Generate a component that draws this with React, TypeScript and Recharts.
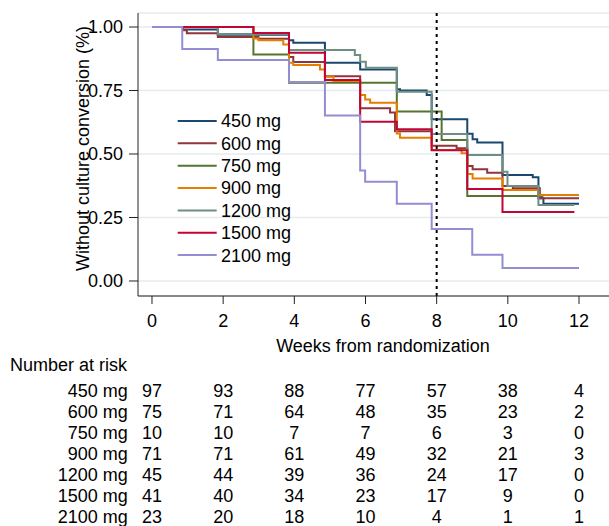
import React from 'react';
import { LineChart, Line, XAxis, YAxis, CartesianGrid, ReferenceLine } from 'recharts';

// ---- data ----
const groups = ['450 mg', '600 mg', '750 mg', '900 mg', '1200 mg', '1500 mg', '2100 mg'];
const colors = ['#1a476f', '#90353b', '#55752f', '#e37e00', '#6e8e84', '#c10534', '#938dd2'];

const t450 = [0, 0.87, 1.85, 3.85, 3.97, 4.86, 5.85, 6.88, 6.97, 7.72, 7.86, 8.86, 9.01, 9.14, 9.85, 10.7, 10.86, 11.0, 12];
const s450 = [1, 0.99, 0.969, 0.948, 0.938, 0.859, 0.833, 0.755, 0.75, 0.732, 0.637, 0.58, 0.558, 0.545, 0.417, 0.408, 0.326, 0.304, 0.304];

const t600 = [0, 0.87, 0.98, 1.85, 2.99, 3.85, 3.97, 4.86, 5.85, 6.69, 6.83, 7.86, 8.56, 8.86, 9.01, 9.42, 9.85, 10.14, 10.9, 12];
const s600 = [1, 0.987, 0.975, 0.961, 0.954, 0.882, 0.862, 0.806, 0.68, 0.663, 0.59, 0.532, 0.523, 0.453, 0.44, 0.426, 0.374, 0.365, 0.326, 0.326];

const t750 = [0, 2.85, 3.85, 6.88, 8.14, 8.86, 11.0];
const s750 = [1, 0.892, 0.781, 0.667, 0.555, 0.335, 0.335];

const t900 = [0, 2.85, 2.99, 3.69, 3.85, 3.97, 4.72, 4.86, 5.1, 5.85, 5.99, 6.13, 6.88, 6.97, 7.86, 8.7, 8.86, 9.01, 9.85, 10.86, 12];
const s900 = [1, 0.955, 0.948, 0.931, 0.859, 0.85, 0.833, 0.804, 0.787, 0.732, 0.715, 0.702, 0.581, 0.564, 0.516, 0.503, 0.421, 0.404, 0.358, 0.339, 0.339];

const t1200 = [0, 1.85, 3.85, 5.7, 5.85, 6.01, 6.88, 7.86, 8.86, 9.85, 9.99, 10.86, 11.87];
const s1200 = [1, 0.972, 0.909, 0.89, 0.863, 0.84, 0.745, 0.579, 0.496, 0.43, 0.374, 0.299, 0.299];

const t1500 = [0, 2.85, 3.85, 4.86, 5.85, 6.88, 7.86, 8.86, 9.85, 11.87];
const s1500 = [1, 0.976, 0.899, 0.791, 0.627, 0.597, 0.515, 0.362, 0.272, 0.272];

const t2100 = [0, 0.85, 1.85, 3.85, 4.86, 5.85, 5.99, 6.88, 7.86, 9.0, 9.85, 12];
const s2100 = [1, 0.913, 0.87, 0.783, 0.652, 0.435, 0.391, 0.304, 0.205, 0.103, 0.051, 0.051];

const xTicks = [0, 2, 4, 6, 8, 10, 12];
const yTicks = [0, 0.25, 0.5, 0.75, 1];

const riskTimes = [0, 2, 4, 6, 8, 10, 12];
const risk450 = [97, 93, 88, 77, 57, 38, 4];
const risk600 = [75, 71, 64, 48, 35, 23, 2];
const risk750 = [10, 10, 7, 7, 6, 3, 0];
const risk900 = [71, 71, 61, 49, 32, 21, 3];
const risk1200 = [45, 44, 39, 36, 24, 17, 0];
const risk1500 = [41, 40, 34, 23, 17, 9, 0];
const risk2100 = [23, 20, 18, 10, 4, 1, 1];

const refWeek = 8;

// ---- build ----
const zip = (t: number[], s: number[]) => t.map((v, i) => ({ t: v, s: s[i] }));
const series = [
  zip(t450, s450),
  zip(t600, s600),
  zip(t750, s750),
  zip(t900, s900),
  zip(t1200, s1200),
  zip(t1500, s1500),
  zip(t2100, s2100),
];
const riskRows = [risk450, risk600, risk750, risk900, risk1200, risk1500, risk2100];

// ---- layout ----
const W = 609;
const H = 526;
const PLOT_LEFT = 138;
const PLOT_TOP = 13;
const PLOT_BOTTOM = 296;
const X_AXIS_H = 40;
const X_DOMAIN: [number, number] = [-0.3934, 12.843];
const Y_DOMAIN: [number, number] = [-0.05906, 1.05512];
const FONT = '"Liberation Sans", Arial, sans-serif';
const FS = 18;

const xPix = (w: number) =>
  PLOT_LEFT + ((w - X_DOMAIN[0]) / (X_DOMAIN[1] - X_DOMAIN[0])) * (W - PLOT_LEFT);

export default function App() {
  return (
    <div
      style={{
        position: 'absolute',
        left: 0,
        top: 0,
        width: W,
        height: H,
        overflow: 'hidden',
        background: '#fff',
        fontFamily: FONT,
      }}
    >
      <LineChart
        width={W}
        height={H}
        margin={{ top: PLOT_TOP, right: 0, left: 0, bottom: H - PLOT_BOTTOM - X_AXIS_H }}
      >
        <CartesianGrid vertical={false} stroke="#e4ecee" strokeWidth={1.5} />
        <XAxis
          type="number"
          dataKey="t"
          domain={X_DOMAIN}
          ticks={xTicks}
          allowDataOverflow
          height={X_AXIS_H}
          tickSize={8}
          tickMargin={10}
          stroke="#222"
          tick={{ fill: '#000', fontSize: FS, fontFamily: FONT }}
        />
        <YAxis
          type="number"
          domain={Y_DOMAIN}
          ticks={yTicks}
          allowDataOverflow
          width={PLOT_LEFT}
          tickSize={9}
          tickMargin={6}
          stroke="#222"
          tickFormatter={(v: number) => v.toFixed(2)}
          tick={{ fill: '#000', fontSize: FS, fontFamily: FONT }}
        />
        {series.map((d, i) => (
          <Line
            key={groups[i]}
            data={d}
            dataKey="s"
            type="stepAfter"
            stroke={colors[i]}
            strokeWidth={2}
            dot={false}
            activeDot={false}
            isAnimationActive={false}
          />
        ))}
        <ReferenceLine x={refWeek} stroke="#000" strokeWidth={2} strokeDasharray="3 4" />
      </LineChart>

      <svg
        width={W}
        height={H}
        style={{ position: 'absolute', left: 0, top: 0, pointerEvents: 'none' }}
        fontFamily={FONT}
        fontSize={FS}
      >
        {/* y axis title */}
        <text
          transform={`translate(89, 148.5) rotate(-90)`}
          textAnchor="middle"
          fill="#000"
        >
          Without culture conversion (%)
        </text>
        {/* x axis title */}
        <text x={383} y={351.7} textAnchor="middle" fill="#000">
          Weeks from randomization
        </text>
        {/* legend */}
        {groups.map((g, i) => {
          const cy = 121 + i * 22.35;
          return (
            <g key={g}>
              <line x1={177.7} x2={216.7} y1={cy} y2={cy} stroke={colors[i]} strokeWidth={2} />
              <text x={221} y={cy + 6.4} fill="#000">
                {g}
              </text>
            </g>
          );
        })}
        {/* risk table */}
        <text x={10} y={371} fill="#000">
          Number at risk
        </text>
        {riskRows.map((row, r) => {
          const by = 396.5 + r * 21;
          return (
            <g key={groups[r]}>
              <text x={127.7} y={by} textAnchor="end" fill="#000">
                {groups[r]}
              </text>
              {row.map((n, c) => (
                <text key={c} x={xPix(riskTimes[c])} y={by} textAnchor="middle" fill="#000">
                  {n}
                </text>
              ))}
            </g>
          );
        })}
      </svg>
    </div>
  );
}
